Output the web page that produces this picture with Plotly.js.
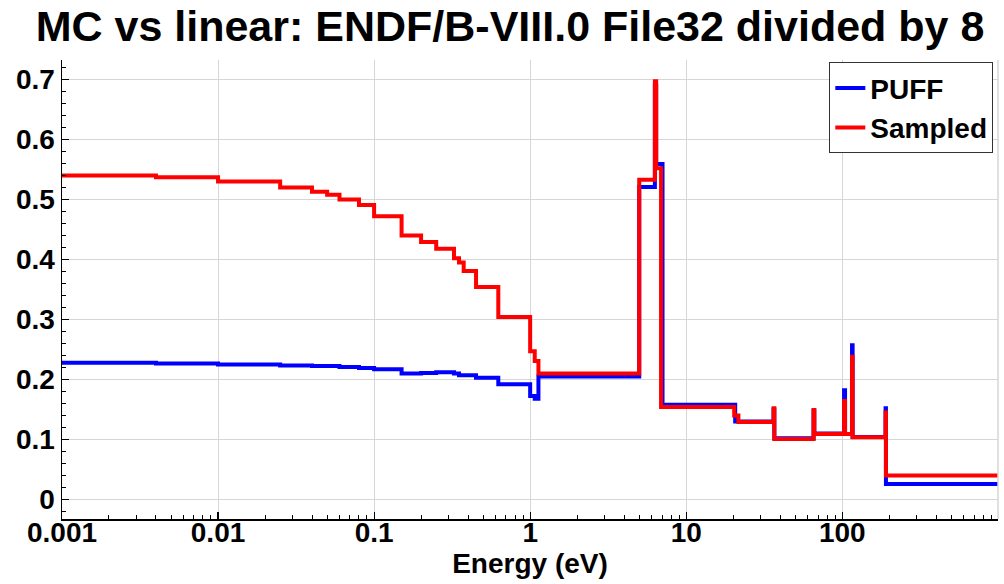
<!DOCTYPE html>
<html>
<head>
<meta charset="utf-8">
<script src="https://cdn.plot.ly/plotly-3.0.1.min.js"></script>
<style>html,body{margin:0;padding:0;background:#fff;}#chart{width:1004px;height:584px;}</style>
</head>
<body>
<div id="chart"></div>
<script>
// PUFF (linear) – bin lower energies (eV) and values
const puffEnergy = [0.001, 0.004, 0.01, 0.025, 0.04, 0.06, 0.08, 0.1, 0.15, 0.2, 0.25, 0.325, 0.35, 0.45, 0.625,
  1.0, 1.07, 1.13, 5.0, 6.3, 6.42, 7.05, 20.6, 36.3, 36.7, 65.5, 66.2, 102.7, 104.2, 115.5, 116.5, 189.5, 190.5, 1000];
const puffValue = [0.228, 0.2265, 0.225, 0.2235, 0.2225, 0.221, 0.219, 0.217, 0.210, 0.211, 0.212, 0.210, 0.207, 0.203, 0.192,
  0.1725, 0.168, 0.205, 0.521, 0.69, 0.559, 0.158, 0.130, 0.150, 0.102, 0.148, 0.110, 0.182, 0.109, 0.257, 0.104, 0.152, 0.026, 0.026];

// Sampled (MC) – bin lower energies (eV) and values
const sampledEnergy = [0.001, 0.004, 0.01, 0.025, 0.04, 0.05, 0.06, 0.08, 0.1, 0.15, 0.2, 0.25, 0.325, 0.35, 0.375, 0.45, 0.625,
  1.0, 1.07, 1.13, 5.0, 6.3, 6.42, 6.9, 20.3, 21.6, 36.3, 36.7, 65.5, 66.2, 102.7, 104.2, 115.5, 116.5, 189.5, 190.5, 1000];
const sampledValue = [0.540, 0.537, 0.530, 0.520, 0.513, 0.508, 0.500, 0.491, 0.472, 0.440, 0.429, 0.418, 0.402, 0.395, 0.381, 0.354, 0.304,
  0.247, 0.231, 0.210, 0.533, 0.697, 0.552, 0.154, 0.140, 0.129, 0.152, 0.101, 0.149, 0.109, 0.164, 0.109, 0.238, 0.1037, 0.145, 0.040, 0.040];

const seriesNames = ['PUFF', 'Sampled'];
const chartTitle = 'MC vs linear: ENDF/B-VIII.0 File32 divided by 8';
const xTitle = 'Energy (eV)';

const FONT = 'Liberation Sans, Arial, Helvetica, sans-serif';

const traces = [
  {x: puffEnergy, y: puffValue, name: seriesNames[0], type: 'scatter', mode: 'lines',
   line: {shape: 'hv', color: '#0000ff', width: 4}},
  {x: sampledEnergy, y: sampledValue, name: seriesNames[1], type: 'scatter', mode: 'lines',
   line: {shape: 'hv', color: '#ff0000', width: 4}}
];

const layout = {
  width: 1004, height: 584,
  paper_bgcolor: '#ffffff', plot_bgcolor: '#ffffff',
  font: {family: FONT, size: 28, color: '#000', weight: 'bold'},
  margin: {l: 62, r: 6, t: 60, b: 65, pad: 0},
  title: {text: chartTitle, font: {family: FONT, size: 43, weight: 'bold', color: '#000'},
          xref: 'container', x: 0.508, xanchor: 'center', yref: 'container', y: 0.955, yanchor: 'middle'},
  xaxis: {
    type: 'log', range: [-3, 2.998], autorange: false,
    tickmode: 'linear', tick0: 0, dtick: 1, exponentformat: 'none',
    ticks: 'inside', ticklen: 7, tickwidth: 1.2, tickcolor: '#000',
    ticklabelstandoff: -12,
    showline: true, linecolor: '#000', linewidth: 1.5,
    showgrid: true, gridcolor: '#d6d6d6', gridwidth: 1, zeroline: false,
    minor: {dtick: 'D1', ticks: 'inside', ticklen: 4, tickcolor: '#000', tickwidth: 1, showgrid: false},
    tickfont: {family: FONT, size: 28, weight: 'bold'},
    title: {text: xTitle, font: {family: FONT, size: 28, weight: 'bold'}, standoff: 6},
    automargin: false
  },
  yaxis: {
    range: [-0.0325, 0.7325], autorange: false,
    tickmode: 'linear', tick0: 0, dtick: 0.1,
    ticks: 'inside', ticklen: 7, tickwidth: 1.2, tickcolor: '#000',
    showline: true, linecolor: '#000', linewidth: 1.5,
    showgrid: true, gridcolor: '#d6d6d6', gridwidth: 1, zeroline: false,
    minor: {dtick: 0.02, ticks: 'inside', ticklen: 4, tickcolor: '#000', tickwidth: 1, showgrid: false},
    tickfont: {family: FONT, size: 28, weight: 'bold'},
    automargin: false
  },
  legend: {
    x: 0.995, xanchor: 'right', y: 0.995, yanchor: 'top',
    bgcolor: '#ffffff', bordercolor: '#333333', borderwidth: 1,
    font: {family: FONT, size: 28, weight: 'bold', color: '#000'},
    itemwidth: 30, tracegroupgap: 0
  },
  shapes: [
    {type: 'line', xref: 'paper', yref: 'paper', x0: 1, x1: 1, y0: 0, y1: 1,
     line: {color: '#d6d6d6', width: 1.5}}
  ],
  showlegend: true
};

Plotly.newPlot('chart', traces, layout, {displayModeBar: false, staticPlot: true});
</script>
</body>
</html>
